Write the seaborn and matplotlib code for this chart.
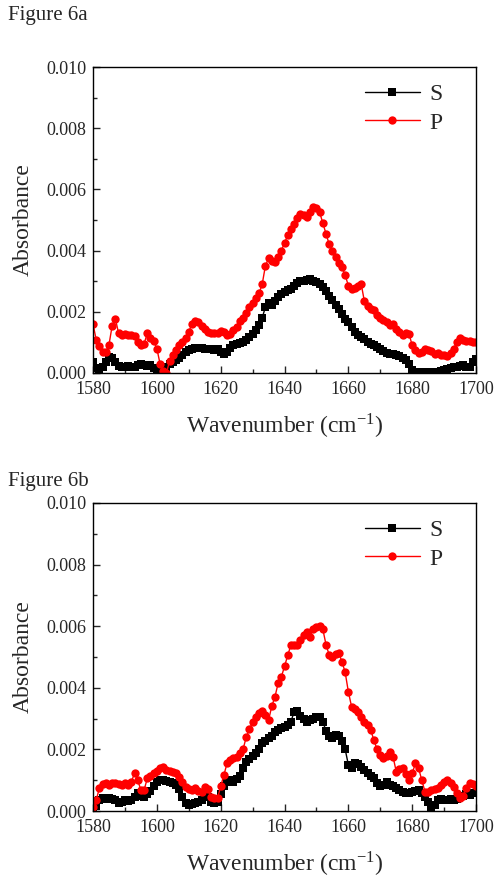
import numpy as np
import pandas as pd
import matplotlib
matplotlib.use('Agg')
import matplotlib.pyplot as plt
import seaborn as sns
from matplotlib.ticker import MultipleLocator

# wavenumber axis, 1 cm-1 steps
wavenumber = list(range(1580, 1701))

# Figure 6a
s_6a = [0.00035, 0.00015, 0.00012, 0.00020, 0.00035, 0.00052, 0.00050, 0.00035, 0.00022, 0.00018,
        0.00020, 0.00022, 0.00018, 0.00020, 0.00025, 0.00028, 0.00025, 0.00022, 0.00025, 0.00015,
        0.00003, 0.00000, 0.00008, 0.00020, 0.00028, 0.00035, 0.00042, 0.00050, 0.00060, 0.00068,
        0.00075, 0.00080, 0.00082, 0.00083, 0.00082, 0.00080, 0.00080, 0.00078, 0.00075, 0.00080,
        0.00068, 0.00062, 0.00070, 0.00082, 0.00090, 0.00095, 0.00098, 0.00102, 0.00108, 0.00118,
        0.00128, 0.00140, 0.00158, 0.00180, 0.00215, 0.00228, 0.00222, 0.00235, 0.00248, 0.00258,
        0.00265, 0.00270, 0.00275, 0.00285, 0.00295, 0.00300, 0.00302, 0.00305, 0.00306, 0.00302,
        0.00298, 0.00290, 0.00280, 0.00268, 0.00252, 0.00238, 0.00222, 0.00208, 0.00192, 0.00178,
        0.00165, 0.00150, 0.00135, 0.00125, 0.00118, 0.00110, 0.00100, 0.00095, 0.00090, 0.00085,
        0.00080, 0.00072, 0.00065, 0.00062, 0.00062, 0.00060, 0.00055, 0.00048, 0.00042, 0.00030,
        0.00010, 0.00004, 0.00003, 0.00002, 0.00002, 0.00002, 0.00003, 0.00002, 0.00003, 0.00005,
        0.00010, 0.00012, 0.00015, 0.00020, 0.00020, 0.00022, 0.00025, 0.00020, 0.00018, 0.00035,
        0.00045]
p_6a = [0.00160, 0.00108, 0.00088, 0.00070, 0.00068, 0.00092, 0.00155, 0.00178, 0.00130, 0.00125,
        0.00128, 0.00125, 0.00125, 0.00120, 0.00100, 0.00090, 0.00095, 0.00130, 0.00115, 0.00105,
        0.00080, 0.00030, 0.00005, 0.00000, 0.00040, 0.00060, 0.00075, 0.00090, 0.00100, 0.00115,
        0.00135, 0.00160, 0.00170, 0.00165, 0.00155, 0.00145, 0.00135, 0.00132, 0.00130, 0.00132,
        0.00138, 0.00135, 0.00125, 0.00128, 0.00140, 0.00150, 0.00170, 0.00180, 0.00195, 0.00215,
        0.00230, 0.00245, 0.00260, 0.00290, 0.00350, 0.00375, 0.00365, 0.00362, 0.00380, 0.00400,
        0.00425, 0.00450, 0.00470, 0.00488, 0.00505, 0.00518, 0.00515, 0.00510, 0.00525, 0.00542,
        0.00538, 0.00525, 0.00490, 0.00455, 0.00420, 0.00398, 0.00380, 0.00360, 0.00345, 0.00320,
        0.00285, 0.00275, 0.00278, 0.00285, 0.00292, 0.00235, 0.00218, 0.00210, 0.00205, 0.00190,
        0.00180, 0.00172, 0.00165, 0.00158, 0.00160, 0.00145, 0.00135, 0.00125, 0.00130, 0.00128,
        0.00090, 0.00075, 0.00065, 0.00068, 0.00078, 0.00075, 0.00072, 0.00062, 0.00065, 0.00060,
        0.00058, 0.00055, 0.00065, 0.00080, 0.00100, 0.00115, 0.00108, 0.00105, 0.00105, 0.00102,
        0.00100]

# Figure 6b
s_6b = [0.00005, 0.00015, 0.00036, 0.00041, 0.00040, 0.00042, 0.00040, 0.00035, 0.00025, 0.00030,
        0.00036, 0.00032, 0.00036, 0.00045, 0.00057, 0.00048, 0.00045, 0.00055, 0.00065, 0.00080,
        0.00095, 0.00100, 0.00100, 0.00098, 0.00095, 0.00092, 0.00085, 0.00070, 0.00045, 0.00025,
        0.00020, 0.00022, 0.00025, 0.00030, 0.00035, 0.00055, 0.00045, 0.00030, 0.00025, 0.00028,
        0.00055, 0.00080, 0.00095, 0.00100, 0.00095, 0.00105, 0.00115, 0.00140, 0.00160, 0.00170,
        0.00180, 0.00188, 0.00200, 0.00220, 0.00228, 0.00238, 0.00245, 0.00255, 0.00262, 0.00268,
        0.00272, 0.00280, 0.00290, 0.00322, 0.00325, 0.00308, 0.00298, 0.00290, 0.00295, 0.00300,
        0.00305, 0.00306, 0.00290, 0.00260, 0.00245, 0.00238, 0.00248, 0.00242, 0.00228, 0.00200,
        0.00150, 0.00140, 0.00155, 0.00152, 0.00142, 0.00132, 0.00125, 0.00115, 0.00108, 0.00090,
        0.00080, 0.00085, 0.00095, 0.00085, 0.00080, 0.00075, 0.00068, 0.00062, 0.00058, 0.00060,
        0.00063, 0.00066, 0.00068, 0.00060, 0.00045, 0.00030, 0.00014, 0.00020, 0.00036, 0.00038,
        0.00036, 0.00035, 0.00038, 0.00036, 0.00040, 0.00045, 0.00050, 0.00055, 0.00052, 0.00058,
        0.00060]
p_6b = [0.00012, 0.00036, 0.00074, 0.00088, 0.00090, 0.00085, 0.00090, 0.00092, 0.00088, 0.00085,
        0.00090, 0.00085, 0.00095, 0.00122, 0.00100, 0.00068, 0.00068, 0.00106, 0.00115, 0.00122,
        0.00130, 0.00139, 0.00144, 0.00133, 0.00130, 0.00128, 0.00122, 0.00112, 0.00095, 0.00079,
        0.00070, 0.00068, 0.00074, 0.00065, 0.00063, 0.00079, 0.00070, 0.00047, 0.00041, 0.00041,
        0.00080, 0.00117, 0.00155, 0.00165, 0.00171, 0.00176, 0.00187, 0.00200, 0.00240, 0.00265,
        0.00290, 0.00305, 0.00318, 0.00325, 0.00312, 0.00295, 0.00340, 0.00371, 0.00415, 0.00435,
        0.00470, 0.00505, 0.00539, 0.00540, 0.00540, 0.00555, 0.00570, 0.00582, 0.00566, 0.00590,
        0.00598, 0.00600, 0.00590, 0.00540, 0.00506, 0.00500, 0.00510, 0.00512, 0.00485, 0.00450,
        0.00387, 0.00339, 0.00330, 0.00320, 0.00306, 0.00290, 0.00279, 0.00263, 0.00230, 0.00200,
        0.00182, 0.00171, 0.00180, 0.00193, 0.00176, 0.00128, 0.00135, 0.00139, 0.00120, 0.00100,
        0.00122, 0.00155, 0.00139, 0.00100, 0.00063, 0.00062, 0.00068, 0.00070, 0.00074, 0.00085,
        0.00095, 0.00100, 0.00090, 0.00079, 0.00060, 0.00041, 0.00050, 0.00075, 0.00090, 0.00088,
        0.00080]

sns.set_style('ticks')
plt.rcParams['font.family'] = ['Liberation Serif', 'DejaVu Serif']
plt.rcParams['mathtext.fontset'] = 'stix'

fig = plt.figure(figsize=(5.02, 8.83), dpi=100)
ax_a = fig.add_axes([0.1853, 0.5776, 0.763, 0.3465])
ax_b = fig.add_axes([0.1853, 0.0815, 0.763, 0.3489])

for ax, s_vals, p_vals in [(ax_a, s_6a, p_6a), (ax_b, s_6b, p_6b)]:
    sns.lineplot(x=wavenumber, y=s_vals, ax=ax, color='black', marker='s', markersize=5.5,
                 markeredgewidth=0, linewidth=1, label='S')
    sns.lineplot(x=wavenumber, y=p_vals, ax=ax, color='red', marker='o', markersize=6,
                 markeredgewidth=0, linewidth=1, label='P')
    ax.set_xlim(1580, 1700)
    ax.set_ylim(0, 0.010)
    ax.xaxis.set_major_locator(MultipleLocator(20))
    ax.xaxis.set_minor_locator(MultipleLocator(10))
    ax.yaxis.set_major_locator(MultipleLocator(0.002))
    ax.yaxis.set_minor_locator(MultipleLocator(0.001))
    ax.yaxis.set_major_formatter(matplotlib.ticker.FormatStrFormatter('%.3f'))
    ax.tick_params(which='major', direction='in', length=5, width=1, labelsize=13,
                   top=False, right=False)
    ax.tick_params(axis='x', which='major', pad=6)
    ax.tick_params(axis='y', which='major', pad=5)
    ax.tick_params(which='minor', direction='in', length=3, width=1, top=False, right=False)
    for sp in ax.spines.values():
        sp.set_visible(True)
        sp.set_linewidth(1)
        sp.set_color('black')
    ax.set_xlabel('Wavenumber (cm$^{\\mathregular{-1}}$)', fontsize=17, labelpad=10)
    ax.set_ylabel('Absorbance', fontsize=17, labelpad=9)
    ax.legend(loc='upper right', bbox_to_anchor=(0.955, 1.0), frameon=False, fontsize=17,
              handlelength=2.3, handletextpad=0.4, labelspacing=0.3, borderaxespad=0.3)

fig.text(0.016, 0.983, 'Figure 6a', fontsize=15, va='center', ha='left')
fig.text(0.016, 0.455, 'Figure 6b', fontsize=15, va='center', ha='left')

fig.savefig('out.png', dpi=100)
